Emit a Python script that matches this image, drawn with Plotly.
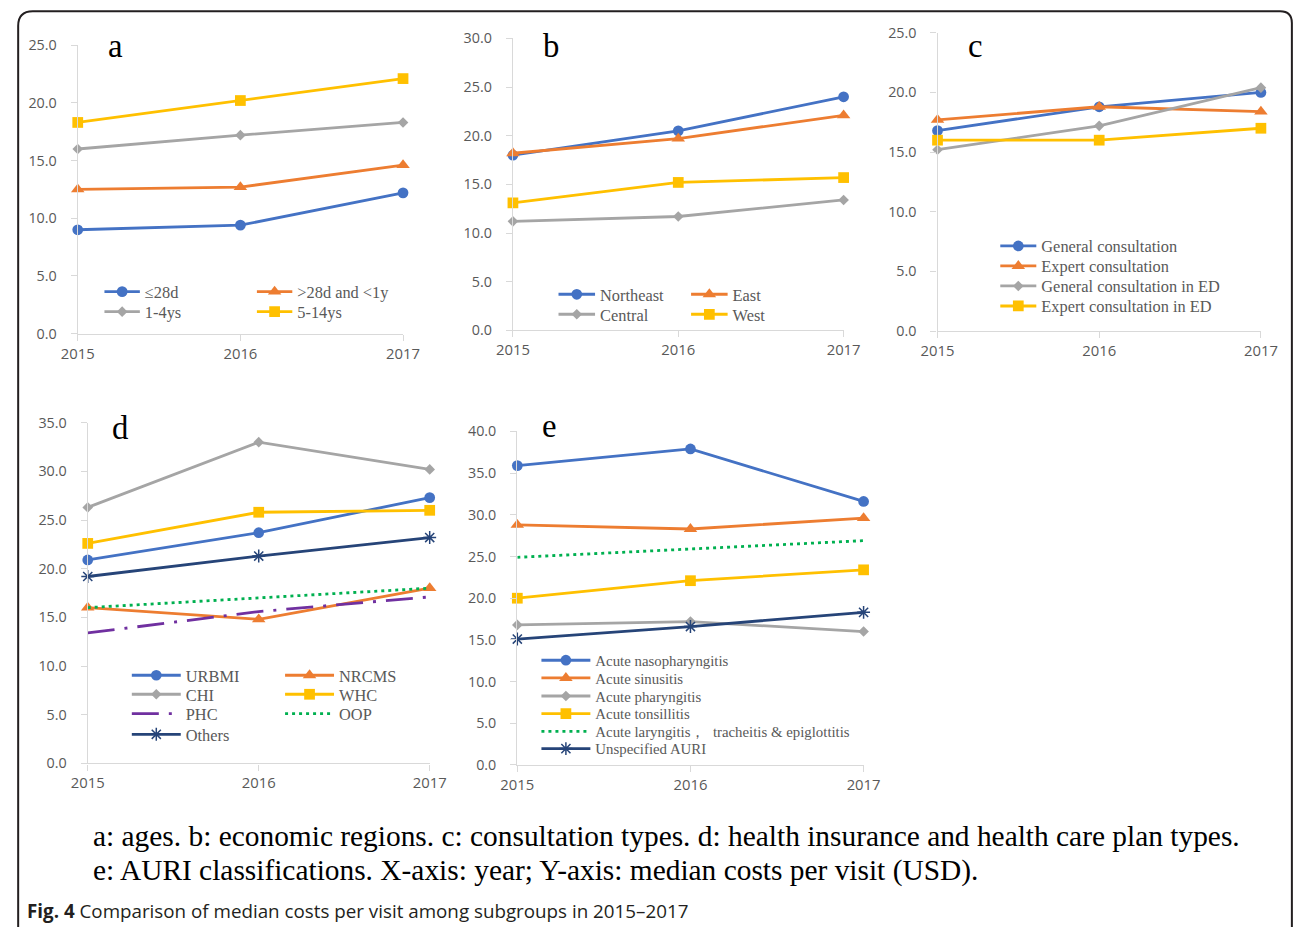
import plotly.graph_objects as go

# The photographed picture shows page pixels through X = OX + SX*x, Y = OY + SY*y.
# All positions below are given in reference-picture pixels and mapped back to page pixels.
OX, SX = 15.9, 0.975
OY, SY = 9.9, 0.979
K = 1 / ((SX + SY) / 2)          # size compensation
W, H = 1311, 938                 # page size covering the whole photographed area


def px(x):
    return (x - OX) / SX


def py(y):
    return (y - OY) / SY


def fx(x):
    return px(x) / W


def fy(y):
    return 1 - py(y) / H


years = [2015, 2016, 2017]

# ---- Panel a: ages
age_le28d = [9.0, 9.4, 12.2]
age_28d_1y = [12.5, 12.7, 14.6]
age_1_4 = [16.0, 17.2, 18.3]
age_5_14 = [18.3, 20.2, 22.1]

# ---- Panel b: economic regions
reg_northeast = [18.0, 20.5, 24.0]
reg_east = [18.2, 19.7, 22.1]
reg_central = [11.2, 11.7, 13.4]
reg_west = [13.1, 15.2, 15.7]

# ---- Panel c: consultation types
con_general = [16.8, 18.8, 20.0]
con_expert = [17.7, 18.8, 18.4]
con_general_ed = [15.2, 17.2, 20.4]
con_expert_ed = [16.0, 16.0, 17.0]

# ---- Panel d: insurance / care plan types
ins_urbmi = [20.9, 23.7, 27.3]
ins_nrcms = [16.0, 14.8, 18.0]
ins_chi = [26.3, 33.0, 30.2]
ins_whc = [22.6, 25.8, 26.0]
ins_phc = [13.4, 15.6, 17.1]
ins_oop = [16.0, 17.0, 18.0]
ins_others = [19.2, 21.3, 23.2]

# ---- Panel e: AURI classifications
auri_naso = [35.9, 37.9, 31.6]
auri_sinus = [28.8, 28.3, 29.6]
auri_pharyng = [16.8, 17.2, 16.0]
auri_tonsil = [20.0, 22.1, 23.4]
auri_laryng = [24.9, 25.9, 26.9]
auri_unspec = [15.1, 16.6, 18.3]

BLUE, ORANGE, GRAY, YELLOW = "#4472C4", "#ED7D31", "#A5A5A5", "#FFC000"
PURPLE, GREEN, NAVY = "#7030A0", "#00B050", "#264478"
TXT = "#595959"
AX = "#D9D9D9"

ST = {
    "circle": dict(symbol="circle", size=10.5),
    "tri": dict(symbol="triangle-up", size=11.5),
    "dia": dict(symbol="diamond", size=8),
    "sq": dict(symbol="square", size=10.5),
    "ast": dict(symbol="asterisk-open", size=10.5),
}

# panel geometry in reference pixels: x0, x1, ytop, ybottom, ymax
panels = {
    "a": (76.7, 402.3, 45.0, 333.3, 25),
    "b": (512.3, 843.3, 38.3, 330.0, 30),
    "c": (937.3, 1261.0, 32.7, 330.7, 25),
    "d": (86.7, 429.0, 422.3, 762.7, 35),
    "e": (516.7, 863.3, 431.0, 764.3, 40),
}
axis_ids = {"a": "", "b": "2", "c": "3", "d": "4", "e": "5"}

# panel, name, values, color, marker, dash, legend text x / row centre y (ref px), text offset, font size
series = [
    ("a", "≤28d", age_le28d, BLUE, "circle", "solid", (142.7, 291.7), 39.4, 16),
    ("a", ">28d and <1y", age_28d_1y, ORANGE, "tri", "solid", (295.3, 291.7), 39.4, 16),
    ("a", "1-4ys", age_1_4, GRAY, "dia", "solid", (142.7, 311.7), 39.4, 16),
    ("a", "5-14ys", age_5_14, YELLOW, "sq", "solid", (295.3, 311.7), 39.4, 16),
    ("b", "Northeast", reg_northeast, BLUE, "circle", "solid", (598.3, 294.3), 40.5, 16),
    ("b", "East", reg_east, ORANGE, "tri", "solid", (731.0, 294.3), 40.5, 16),
    ("b", "Central", reg_central, GRAY, "dia", "solid", (598.3, 314.3), 40.5, 16),
    ("b", "West", reg_west, YELLOW, "sq", "solid", (731.0, 314.3), 40.5, 16),
    ("c", "General consultation", con_general, BLUE, "circle", "solid", (1040, 246), 40, 16),
    ("c", "Expert consultation", con_expert, ORANGE, "tri", "solid", (1040, 266), 40, 16),
    ("c", "General consultation in ED", con_general_ed, GRAY, "dia", "solid", (1040, 286), 40, 16),
    ("c", "Expert consultation in ED", con_expert_ed, YELLOW, "sq", "solid", (1040, 306), 40, 16),
    ("d", "URBMI", ins_urbmi, BLUE, "circle", "solid", (183.3, 675), 52.6, 16),
    ("d", "NRCMS", ins_nrcms, ORANGE, "tri", "solid", (336.7, 675), 52.6, 16),
    ("d", "CHI", ins_chi, GRAY, "dia", "solid", (183.3, 694), 52.6, 16),
    ("d", "WHC", ins_whc, YELLOW, "sq", "solid", (336.7, 694), 52.6, 16),
    ("d", "PHC", ins_phc, PURPLE, None, "27px,10px,3px,10px", (183.3, 713.3), 52.6, 16),
    ("d", "OOP", ins_oop, GREEN, None, "3px,4px", (336.7, 713.3), 52.6, 16),
    ("d", "Others", ins_others, NAVY, "ast", "solid", (183.3, 734), 52.6, 16),
    ("e", "Acute nasopharyngitis", auri_naso, BLUE, "circle", "solid", (593.3, 660), 52.6, 14.5),
    ("e", "Acute sinusitis", auri_sinus, ORANGE, "tri", "solid", (593.3, 677.7), 52.6, 14.5),
    ("e", "Acute pharyngitis", auri_pharyng, GRAY, "dia", "solid", (593.3, 695.7), 52.6, 14.5),
    ("e", "Acute tonsillitis", auri_tonsil, YELLOW, "sq", "solid", (593.3, 713.3), 52.6, 14.5),
    ("e", "Acute laryngitis，  tracheitis & epiglottitis", auri_laryng, GREEN, None, "3px,4px", (593.3, 731), 52.6, 14.5),
    ("e", "Unspecified AURI", auri_unspec, NAVY, "ast", "solid", (593.3, 748.3), 52.6, 14.5),
]

fig = go.Figure()
layout_legends = {}
for i, (p, name, vals, color, mk, dash, (tx, ty), toff, fs) in enumerate(series):
    lid = "legend" if i == 0 else f"legend{i + 1}"
    ax = axis_ids[p]
    if mk is None:
        mode = "lines"
        marker = None
    else:
        mode = "lines+markers"
        m = ST[mk]
        marker = dict(symbol=m["symbol"], size=m["size"] * K, color=color,
                      line=dict(color=color, width=1.5 if mk == "ast" else 0))
    fig.add_trace(go.Scatter(
        x=years, y=vals, name=name, mode=mode,
        line=dict(color=color, width=2.75 * K, dash=dash),
        marker=marker, cliponaxis=False,
        xaxis="x" + ax, yaxis="y" + ax, legend=lid, showlegend=True,
        hoverinfo="skip",
    ))
    iw = max(30, toff / SX - 5)
    lx_page = px(tx) - iw - 10
    layout_legends[lid] = dict(
        x=lx_page / W, y=fy(ty), xanchor="left", yanchor="middle",
        xref="paper", yref="paper", orientation="v",
        bgcolor="rgba(0,0,0,0)", borderwidth=0, itemwidth=iw,
        font=dict(family="Liberation Serif", size=fs * K, color=TXT),
        itemclick=False, itemdoubleclick=False,
    )

for p, (x0, x1, yt, yb, ymax) in panels.items():
    ax = axis_ids[p]
    fig.layout["xaxis" + ax] = dict(
        domain=[fx(x0), fx(x1)], range=[2015, 2017], anchor="y" + ax,
        tickvals=years, ticktext=[str(y) for y in years],
        showline=True, linecolor=AX, linewidth=1.3, ticks="outside", ticklen=6,
        tickcolor=AX, showgrid=False, zeroline=False, ticklabelstandoff=0,
        tickfont=dict(family="Open Sans", size=14.5 * K, color=TXT), fixedrange=True,
    )
    fig.layout["yaxis" + ax] = dict(
        domain=[fy(yb), fy(yt)], range=[0, ymax], anchor="x" + ax,
        dtick=5, tickformat=".1f", showline=True, linecolor=AX, linewidth=1.3,
        ticks="outside", ticklen=6, tickcolor=AX, showgrid=False, zeroline=False,
        ticklabelstandoff=11,
        tickfont=dict(family="Open Sans", size=14 * K, color=TXT), fixedrange=True,
    )

annotations = []
labels = {"a": (114.2, 58), "b": (550, 58.3), "c": (975, 58.3), "d": (118.8, 440), "e": (548.8, 437.3)}
for lab, (lx, ly) in labels.items():
    annotations.append(dict(
        text=lab, x=fx(lx), y=1 - (py(ly) - 1) / H, xref="paper", yref="paper",
        xanchor="center", yanchor="bottom", showarrow=False, yshift=-9,
        font=dict(family="Liberation Serif", size=32 * K, color="black"),
    ))

annotations.append(dict(
    text="a: ages. b: economic regions. c: consultation types. d: health insurance and health care plan types.",
    x=fx(90), y=fy(835), xref="paper", yref="paper", xanchor="left", yanchor="middle",
    showarrow=False, font=dict(family="Liberation Serif", size=29.4, color="black"),
))
annotations.append(dict(
    text="e: AURI classifications. X-axis: year; Y-axis: median costs per visit (USD).",
    x=fx(90), y=fy(870), xref="paper", yref="paper", xanchor="left", yanchor="middle",
    showarrow=False, font=dict(family="Liberation Serif", size=29.4, color="black"),
))
annotations.append(dict(
    text="<b>Fig. 4</b> Comparison of median costs per visit among subgroups in 2015–2017",
    x=fx(24), y=fy(910), xref="paper", yref="paper", xanchor="left", yanchor="middle",
    showarrow=False, font=dict(family="Open Sans", size=18.8, color="#231F20"),
))


def P(x, y):
    return f"{x / W:.5f},{1 - y / H:.5f}"


bl, bt, br = 1.2, 1.2, px(1292)
border = ("M " + P(bl, H) + " L " + P(bl, bt + 15) + " Q " + P(bl, bt) + " " + P(bl + 15, bt) +
          " L " + P(br - 12, bt) + " Q " + P(br, bt) + " " + P(br, bt + 12) + " L " + P(br, H))

fig.update_layout(
    width=W, height=H, margin=dict(l=0, r=0, t=0, b=0),
    paper_bgcolor="white", plot_bgcolor="white",
    annotations=annotations,
    shapes=[dict(type="path", path=border, xref="paper", yref="paper",
                 line=dict(color="#231F20", width=2))],
    **layout_legends,
)

fig.write_html(
    "out.html",
    config={"displayModeBar": False},
    post_script="document.body.style.margin='0';document.body.style.padding='0';",
)
